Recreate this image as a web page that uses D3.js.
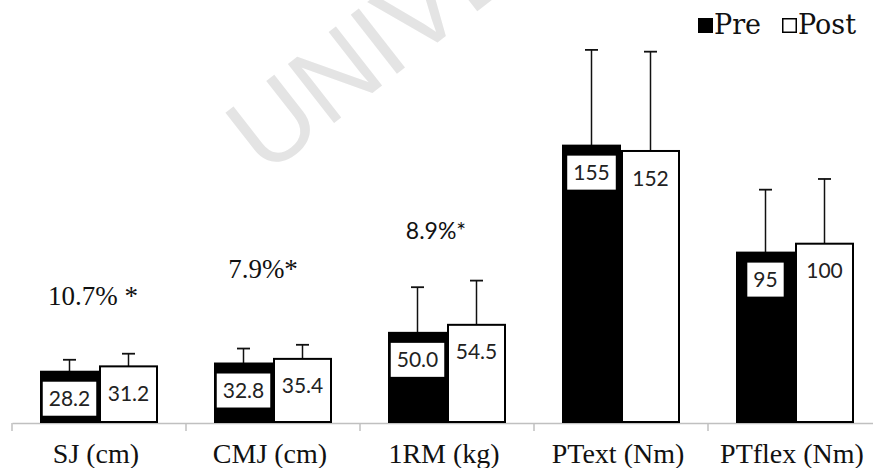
<!DOCTYPE html>
<html>
<head>
<meta charset="utf-8">
<script src="https://cdn.jsdelivr.net/npm/d3@7"></script>
<style>
    body { margin: 0; background: #fff; }
    svg { display: block; }
</style>
</head>
<body>
<div id="chart"></div>
<script>
// chart data
const categories = ['SJ (cm)', 'CMJ (cm)', '1RM (kg)', 'PText (Nm)', 'PTflex (Nm)'];
const series = ['Pre', 'Post'];
const preValues = [28.2, 32.8, 50.0, 155, 95];
const postValues = [31.2, 35.4, 54.5, 152, 100];
const preSD = [6.7, 8.4, 25.6, 53.7, 35.3];
const postSD = [7.1, 7.9, 24.8, 55.7, 36.3];
const preLabels = ['28.2', '32.8', '50.0', '155', '95'];
const postLabels = ['31.2', '35.4', '54.5', '152', '100'];
const annotations = ['10.7% *', '7.9%*', '8.9%*'];

const width = 873, height = 468;
const margin = { top: 0, right: 0, bottom: 46, left: 12 };
const baseY = height - margin.bottom;

const svg = d3.select('#chart').append('svg')
    .attr('width', width)
    .attr('height', height);

// watermark
svg.append('text')
    .attr('transform', 'translate(265,177) rotate(-38)')
    .attr('font-family', 'Liberation Sans, Arial, sans-serif')
    .attr('font-size', 109)
    .attr('fill', '#e4e4e4')
    .text('UNIVERSITY');

// scales
const x0 = d3.scaleBand()
    .domain(categories)
    .range([margin.left, margin.left + 174 * categories.length])
    .padding(0);

const x1 = d3.scaleBand()
    .domain(series)
    .range([28, 146]);

const y = d3.scaleLinear()
    .domain([0, 200])
    .range([baseY, baseY - 356.6]);

const rows = categories.map((c, i) => ({
    name: c,
    bars: [
        { key: 'Pre', value: preValues[i], sd: preSD[i], label: preLabels[i] },
        { key: 'Post', value: postValues[i], sd: postSD[i], label: postLabels[i] }
    ]
}));

// x axis
const axis = svg.append('g')
    .attr('transform', `translate(0,${baseY + 1})`)
    .call(d3.axisBottom(x0).tickSize(0).tickFormat(''));
axis.select('.domain').attr('stroke', '#c0c0c0').attr('stroke-width', 1.5);

svg.append('g').selectAll('line')
    .data(categories)
    .join('line')
    .attr('x1', d => x0(d))
    .attr('x2', d => x0(d))
    .attr('y1', baseY + 1)
    .attr('y2', baseY + 9)
    .attr('stroke', '#c0c0c0')
    .attr('stroke-width', 1.5);

svg.append('g').selectAll('text')
    .data(categories)
    .join('text')
    .attr('x', d => x0(d) + x0.bandwidth() / 2 - 3)
    .attr('y', baseY + 41)
    .attr('text-anchor', 'middle')
    .attr('font-family', '"Liberation Serif", "Times New Roman", serif')
    .attr('font-size', 28)
    .attr('fill', '#111')
    .text(d => d);

// bars
const groups = svg.append('g').selectAll('g')
    .data(rows)
    .join('g')
    .attr('transform', d => `translate(${x0(d.name)},0)`);

const bar = groups.selectAll('g')
    .data(d => d.bars)
    .join('g');

// error bars first so the bar covers the stem bottom
bar.append('line')
    .attr('x1', d => x1(d.key) + x1.bandwidth() / 2)
    .attr('x2', d => x1(d.key) + x1.bandwidth() / 2)
    .attr('y1', d => y(d.value))
    .attr('y2', d => y(d.value + d.sd))
    .attr('stroke', '#111')
    .attr('stroke-width', 1.5);

bar.append('line')
    .attr('x1', d => x1(d.key) + x1.bandwidth() / 2 - 6.5)
    .attr('x2', d => x1(d.key) + x1.bandwidth() / 2 + 6.5)
    .attr('y1', d => y(d.value + d.sd))
    .attr('y2', d => y(d.value + d.sd))
    .attr('stroke', '#111')
    .attr('stroke-width', 1.8);

bar.append('rect')
    .attr('x', d => x1(d.key) + 1)
    .attr('y', d => y(d.value))
    .attr('width', x1.bandwidth() - 2)
    .attr('height', d => baseY - y(d.value))
    .attr('fill', d => d.key === 'Pre' ? '#000' : '#fff')
    .attr('stroke', '#000')
    .attr('stroke-width', 2);

// value labels, pre ones sit in a white box
const labels = bar.append('g')
    .attr('transform', d => `translate(${x1(d.key) + x1.bandwidth() / 2},${y(d.value) + 27})`);

const labelText = labels.append('text')
    .attr('text-anchor', 'middle')
    .attr('dy', '0.36em')
    .attr('font-family', 'Lato, "Open Sans", sans-serif')
    .attr('font-size', 21)
    .attr('fill', '#222')
    .text(d => d.label);

labelText.each(function (d) {
    if (d.key !== 'Pre') return;
    const w = this.getComputedTextLength() + 12;
    d3.select(this.parentNode).insert('rect', 'text')
        .attr('x', -w / 2)
        .attr('y', -17)
        .attr('width', w)
        .attr('height', 34)
        .attr('fill', '#fff');
});

// significance notes above the first three groups
const noteStyle = [
    { dx: -6, gap: 49, font: '"Liberation Serif", serif', size: 27 },
    { dx: -10, gap: 67, font: '"Liberation Serif", serif', size: 27 },
    { dx: -11, gap: 42, font: 'Lato, sans-serif', size: 23 }
];
svg.append('g').selectAll('text')
    .data(annotations)
    .join('text')
    .attr('x', (d, i) => x0(categories[i]) + x0.bandwidth() / 2 + noteStyle[i].dx)
    .attr('y', (d, i) => y(Math.max(preValues[i] + preSD[i], postValues[i] + postSD[i])) - noteStyle[i].gap)
    .attr('text-anchor', 'middle')
    .attr('font-family', (d, i) => noteStyle[i].font)
    .attr('font-size', (d, i) => noteStyle[i].size)
    .attr('fill', '#111')
    .text(d => d);

// legend
const legend = svg.append('g').attr('transform', 'translate(698,18)');
const legendX = [0, 84];
const item = legend.selectAll('g')
    .data(series)
    .join('g')
    .attr('transform', (d, i) => `translate(${legendX[i]},0)`);
item.append('rect')
    .attr('x', (d, i) => i ? 0.75 : 0)
    .attr('y', (d, i) => i ? 0.75 : 0)
    .attr('width', (d, i) => i ? 13.5 : 15)
    .attr('height', (d, i) => i ? 13.5 : 15)
    .attr('fill', (d, i) => i ? '#fff' : '#000')
    .attr('stroke', '#000')
    .attr('stroke-width', (d, i) => i ? 1.5 : 0);
item.append('text')
    .attr('x', 16)
    .attr('y', 16)
    .attr('font-family', '"DejaVu Serif", serif')
    .attr('font-size', 27)
    .attr('fill', '#111')
    .text(d => d);
</script>
</body>
</html>
